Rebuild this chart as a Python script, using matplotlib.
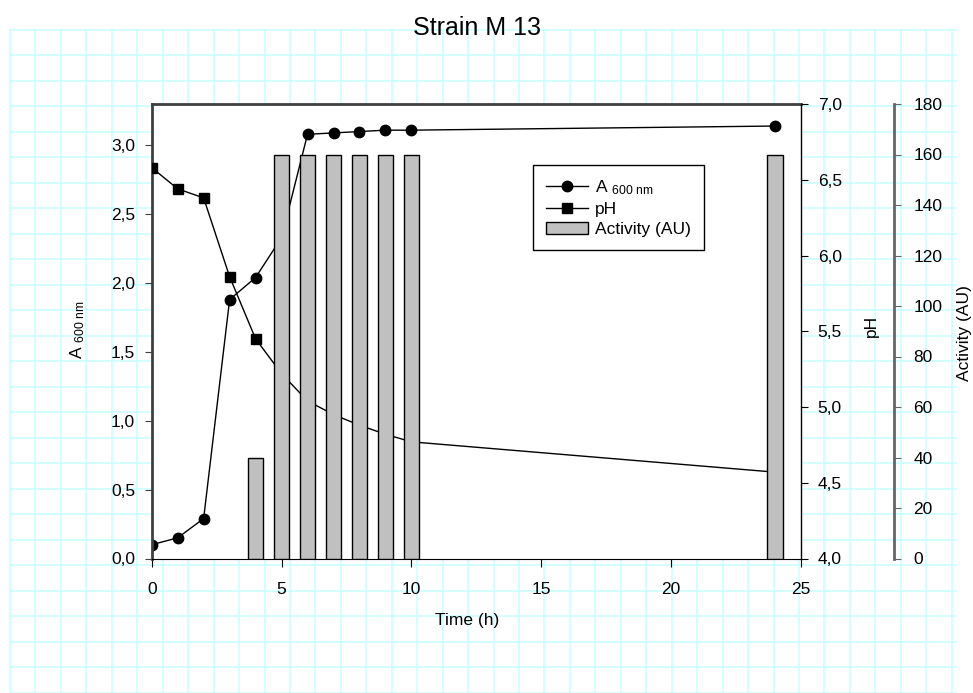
import numpy as np
import matplotlib
matplotlib.use('Agg')
import matplotlib.pyplot as plt
from matplotlib.patches import Patch
from matplotlib.lines import Line2D

plt.rcParams['font.family'] = ['Liberation Sans', 'DejaVu Sans']
plt.rcParams['mathtext.fontset'] = 'custom'
plt.rcParams['mathtext.rm'] = 'Liberation Sans'
plt.rcParams['mathtext.it'] = 'Liberation Sans:italic'

# data
time_h = [0, 1, 2, 3, 4, 5, 6, 7, 8, 9, 10, 24]
a600 = [0.10, 0.15, 0.29, 1.88, 2.04, 2.33, 3.08, 3.09, 3.10, 3.11, 3.11, 3.14]
ph = [6.58, 6.44, 6.38, 5.86, 5.45, 5.22, 5.04, 4.95, 4.88, 4.82, 4.77, 4.57]
time_act = [4, 5, 6, 7, 8, 9, 10, 24]
activity = [40, 160, 160, 160, 160, 160, 160, 160]

x_ticks = [0, 5, 10, 15, 20, 25]
a_ticks = [0, 0.5, 1.0, 1.5, 2.0, 2.5, 3.0]
a_labels = ['0,0', '0,5', '1,0', '1,5', '2,0', '2,5', '3,0']
ph_ticks = [4.0, 4.5, 5.0, 5.5, 6.0, 6.5, 7.0]
ph_labels = ['4,0', '4,5', '5,0', '5,5', '6,0', '6,5', '7,0']
act_ticks = [0, 20, 40, 60, 80, 100, 120, 140, 160, 180]

W, H = 973, 693
fig = plt.figure(figsize=(W / 100, H / 100), dpi=100)

# graph paper behind the chart
bg = fig.add_axes([0, 0, 1, 1])
bg.set_xlim(0, W)
bg.set_ylim(H, 0)
bg.axis('off')
grid_col = '#c6ffff'
for gx in np.arange(10, 957, 25.45):
    bg.plot([gx, gx], [29.5, 692], color=grid_col, lw=1.1)
for gy in np.arange(29.5, 693, 25.5):
    bg.plot([10, 956], [gy, gy], color=grid_col, lw=1.1)

ax = fig.add_axes([151.7 / W, 1 - 558.5 / H, 649.3 / W, 454.5 / H])
ax.set_facecolor('white')
ax2 = ax.twinx()
ax3 = ax.twinx()

ax.plot(time_h, a600, '-o', color='black', ms=7.5, lw=1)
ax2.plot(time_h, ph, '-s', color='black', ms=7, lw=1)
ax3.bar(time_act, activity, width=0.6, color='#c0c0c0', edgecolor='black', lw=1)

ax.set_xlim(0, 25)
ax.set_ylim(0, 3.3)
ax2.set_ylim(4, 7)
ax3.set_ylim(0, 180)

ax.set_xticks(x_ticks)
ax.set_yticks(a_ticks)
ax.set_yticklabels(a_labels)
ax2.set_yticks(ph_ticks)
ax2.set_yticklabels(ph_labels)
ax3.set_yticks(act_ticks)

dark = '#404040'
ax.spines['left'].set_color(dark)
ax.spines['left'].set_linewidth(2)
ax.spines['top'].set_color(dark)
ax.spines['top'].set_linewidth(2)
ax.spines['bottom'].set_color('black')
ax.spines['right'].set_visible(False)
for s in ['top', 'left', 'bottom']:
    ax2.spines[s].set_visible(False)
    ax3.spines[s].set_visible(False)
ax2.spines['right'].set_color('black')
ax2.spines['right'].set_linewidth(1)
ax3.spines['right'].set_position(('axes', (894 - 151.7) / 649.3))
ax3.spines['right'].set_color('#666666')
ax3.spines['right'].set_linewidth(2)

ax.tick_params(axis='x', direction='out', length=6, pad=11, labelsize=12.5)
ax.tick_params(axis='y', direction='out', length=5, pad=7, labelsize=12.5, color=dark)
ax2.tick_params(axis='y', direction='out', length=5, pad=7, labelsize=12.5)
ax3.tick_params(axis='y', direction='out', length=5, pad=9, labelsize=12.5, color='#666666')

fig.text(477 / W, 1 - 28 / H, 'Strain M 13', ha='center', va='center', fontsize=18)
fig.text(467 / W, 1 - 620 / H, 'Time (h)', ha='center', va='center', fontsize=12.5)
fig.text(78 / W, 1 - 330 / H, r'A $_{\mathrm{600\ nm}}$', ha='center', va='center',
         rotation=90, fontsize=12.5)
fig.text(871 / W, 1 - 326 / H, 'pH', ha='center', va='center', rotation=90, fontsize=12.5)
fig.text(964 / W, 1 - 333 / H, 'Activity (AU)', ha='center', va='center', rotation=90,
         fontsize=12.5)

handles = [Line2D([], [], color='black', marker='o', ms=7.5, lw=1),
           Line2D([], [], color='black', marker='s', ms=7, lw=1),
           Patch(facecolor='#c0c0c0', edgecolor='black', lw=1)]
labels = [r'A $_{\mathrm{600\ nm}}$', 'pH', 'Activity (AU)']
leg = fig.legend(handles, labels, loc='upper left', bbox_to_anchor=(533 / W, 1 - 165 / H),
                 frameon=True, fancybox=False, edgecolor='black', framealpha=1,
                 fontsize=12.5, handlelength=2.4, borderpad=0.75, labelspacing=0.3,
                 handletextpad=0.4, borderaxespad=0)
leg.get_frame().set_linewidth(1)

fig.savefig('out.png', dpi=100)
